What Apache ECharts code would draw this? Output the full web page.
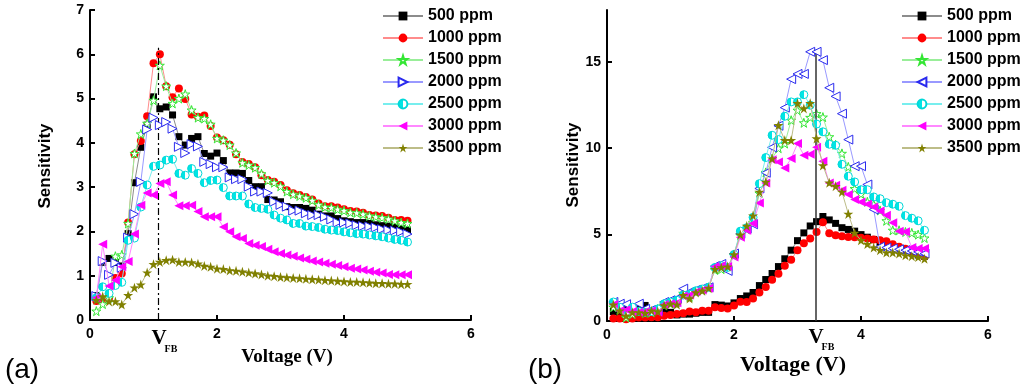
<!DOCTYPE html>
<html><head><meta charset="utf-8">
<script src="https://cdn.jsdelivr.net/npm/echarts@6/dist/echarts.min.js"></script>
<style>html,body{margin:0;padding:0;background:#fff}#c{width:1024px;height:390px}</style>
</head><body><div id="c"></div>
<script>
const volts = [0.1,0.2,0.3,0.4,0.5,0.6,0.7,0.8,0.9,1.0,1.1,1.2,1.3,1.4,1.5,1.6,1.7,1.8,1.9,2.0,2.1,2.2,2.3,2.4,2.5,2.6,2.7,2.8,2.9,3.0,3.1,3.2,3.3,3.4,3.5,3.6,3.7,3.8,3.9,4.0,4.1,4.2,4.3,4.4,4.5,4.6,4.7,4.8,4.9,5.0];
const seriesNames = ['500 ppm','1000 ppm','1500 ppm','2000 ppm','2500 ppm','3000 ppm','3500 ppm'];
const xTicks = [0,2,4,6];
const yTicksA = [0,1,2,3,4,5,6,7];
const yTicksB = [0,5,10,15];
const vfbA = 1.07, vfbTopA = 6.15;
const vfbB = 3.29, vfbTopB = 15.7;

// panel (a)
const a500  = [0.55,1.30,1.39,1.30,1.22,1.95,3.10,3.90,4.40,5.04, 4.77,4.81,4.63,4.14,3.95,4.10,4.14,3.76,3.70,3.77, 3.60,3.32,3.32,3.31,3.15,3.01,3.01,2.72,2.71,2.67, 2.56,2.54,2.54,2.52,2.48,2.39,2.35,2.35,2.29,2.24, 2.22,2.20,2.20,2.18,2.15,2.13,2.12,2.10,2.07,2.03];
const a1000 = [0.43,0.45,0.50,0.95,1.05,2.20,3.74,4.04,4.60,5.80, 6.00,5.28,5.03,5.23,4.99,4.64,4.59,4.62,4.38,4.12, 4.06,3.96,3.74,3.57,3.52,3.45,3.27,3.16,3.12,3.05, 2.93,2.86,2.82,2.78,2.72,2.63,2.57,2.57,2.54,2.50, 2.46,2.45,2.42,2.37,2.36,2.35,2.31,2.26,2.26,2.24];
const a1500 = [0.20,0.36,0.50,1.44,1.47,2.18,3.76,4.20,4.44,4.96, 5.75,5.28,4.89,5.00,5.10,4.74,4.57,4.55,4.42,4.10, 4.06,3.95,3.77,3.55,3.50,3.44,3.30,3.15,3.10,3.02, 2.90,2.84,2.80,2.76,2.70,2.60,2.55,2.54,2.50,2.47, 2.43,2.42,2.39,2.35,2.33,2.31,2.28,2.24,2.20,2.18];
const a2000 = [0.54,1.33,1.02,1.29,1.18,1.86,2.39,3.12,4.30,4.57, 4.40,4.47,4.32,3.91,3.77,3.97,3.92,3.57,3.52,3.45, 3.45,3.22,3.18,3.18,3.01,2.90,2.90,2.87,2.67,2.60, 2.56,2.47,2.47,2.41,2.37,2.37,2.33,2.27,2.20,2.20, 2.18,2.14,2.12,2.11,2.09,2.05,2.03,2.02,1.99,1.94];
const a2500 = [0.50,0.75,0.60,0.78,0.85,1.80,1.85,2.55,3.05,3.47, 3.50,3.61,3.63,3.31,3.27,3.42,3.31,3.10,3.15,3.16, 2.99,2.80,2.80,2.80,2.62,2.54,2.52,2.50,2.37,2.30, 2.26,2.18,2.18,2.12,2.11,2.09,2.05,2.03,2.02,1.99, 1.97,1.95,1.94,1.92,1.90,1.88,1.85,1.82,1.80,1.76];
const a3000 = [0.50,1.71,0.77,0.90,1.20,1.32,1.94,2.59,2.87,2.82, 3.08,3.12,2.82,2.58,2.58,2.59,2.45,2.33,2.33,2.33, 2.10,1.99,1.88,1.84,1.73,1.69,1.66,1.60,1.54,1.50, 1.47,1.44,1.40,1.37,1.33,1.31,1.28,1.26,1.23,1.20, 1.17,1.15,1.13,1.10,1.08,1.06,1.03,1.02,1.02,1.02];
const a3500 = [0.45,0.53,0.42,0.42,0.35,0.56,0.73,0.80,1.07,1.26, 1.31,1.35,1.36,1.31,1.31,1.30,1.27,1.22,1.20,1.16, 1.15,1.12,1.11,1.09,1.07,1.05,1.03,1.00,0.99,0.97, 0.96,0.95,0.94,0.93,0.92,0.91,0.90,0.89,0.88,0.87, 0.86,0.86,0.85,0.84,0.83,0.83,0.82,0.82,0.81,0.81];

// panel (b)
const b500  = [0.55,0.45,0.70,0.75,0.70,0.90,0.50,0.45,0.65,0.50, 0.35,0.40,0.40,0.45,0.50,0.50,0.95,0.92,0.87,1.05, 1.30,1.45,1.65,2.05,2.40,2.75,3.15,3.60,4.10,4.65, 5.10,5.50,5.75,6.05,5.85,5.65,5.40,5.30,5.20,5.00, 4.85,4.72,4.55,4.42,4.30,4.20,4.10,3.97,3.82,3.75];
const b1000 = [0.15,0.15,0.10,0.15,0.20,0.20,0.22,0.22,0.30,0.35, 0.40,0.45,0.55,0.50,0.60,0.60,0.80,0.75,0.72,0.90, 1.12,1.10,1.30,1.65,1.97,2.39,2.74,3.20,3.55,4.10, 4.50,4.77,5.15,5.72,5.08,4.96,4.90,4.86,4.85,4.82, 4.77,4.71,4.67,4.61,4.44,4.30,4.18,4.05,3.90,3.75];
const b1500 = [0.80,0.65,0.20,0.40,0.55,0.45,0.50,0.70,0.90,1.00, 1.10,1.60,1.40,1.70,1.80,1.95,2.95,3.00,3.10,3.80, 4.95,5.30,5.70,7.40,8.60,9.40,10.00,10.27,11.62,12.20, 11.47,11.78,12.00,11.80,10.66,10.20,9.70,8.92,7.66,7.35, 6.90,6.75,6.40,5.80,5.25,5.25,5.15,5.10,5.00,4.80];
const b2000 = [1.10,1.00,0.97,0.70,1.00,0.70,0.65,0.60,1.10,1.20, 1.30,1.87,1.68,1.80,1.90,1.95,3.18,3.30,2.90,3.90, 5.05,5.35,5.60,7.67,8.58,10.05,11.30,12.35,14.00,14.30, 14.30,15.58,15.58,15.10,13.50,13.00,12.00,10.50,8.96,8.96, 7.90,6.45,4.30,4.25,4.20,4.15,4.10,4.05,4.00,3.90];
const b2500 = [1.10,0.80,0.50,0.80,0.55,0.50,0.55,0.70,1.00,1.10, 1.20,1.50,1.55,1.75,1.85,1.95,3.10,3.20,3.10,3.85, 5.20,5.40,6.00,7.95,9.46,10.75,10.50,11.85,12.68,12.68, 13.10,12.49,11.40,10.95,10.23,10.17,9.07,8.38,8.05,7.60, 7.60,7.18,7.08,6.85,6.76,6.64,6.10,5.95,5.80,5.25];
const b3000 = [0.95,0.60,0.65,0.55,0.50,0.55,0.60,0.50,0.95,1.00, 1.05,1.45,1.50,1.70,1.80,1.90,3.15,3.20,3.15,3.70, 4.85,5.25,5.65,6.83,7.99,9.34,9.20,8.85,9.40,10.27, 9.60,9.65,10.05,9.25,7.99,7.86,7.57,7.32,7.03,6.89, 6.76,6.60,6.37,6.12,5.68,5.20,5.17,4.26,4.20,4.20];
const b3500 = [0.95,0.60,0.30,0.50,0.50,0.45,0.60,0.55,0.90,1.00, 0.95,1.50,1.30,1.65,1.75,1.90,3.00,3.10,3.15,3.85, 5.00,5.50,6.10,7.47,8.05,9.40,11.33,10.46,10.46,12.60, 12.30,12.60,10.56,9.00,8.00,7.80,7.47,6.20,5.10,4.67, 4.45,4.25,4.10,3.96,3.96,3.90,3.80,3.75,3.70,3.60];

const panelAValues = [a500,a1000,a1500,a2000,a2500,a3000,a3500];
const panelBValues = [b500,b1000,b1500,b2000,b2500,b3000,b3500];

const STAR = 'path://M50,0 L61.2,34.5 L97.6,34.5 L68.2,55.9 L79.4,90.5 L50,69.1 L20.6,90.5 L31.8,55.9 L2.4,34.5 L38.8,34.5 Z';
const TRI_R = 'path://M0,0 L10,5 L0,10 Z';
const TRI_L = 'path://M10,0 L0,5 L10,10 Z';
const halfCyan = {type:'linear',x:0,y:0,x2:1,y2:0,global:false,colorStops:[
  {offset:0,color:'#00e5e5'},{offset:0.5,color:'#00e5e5'},{offset:0.5,color:'#ffffff'},{offset:1,color:'#ffffff'}]};

function styleFor(i, panel){
  const s = [
    {fill:'#000000', border:null, line:'#8c8c8c', symbol:'rect', size:7},
    {fill:'#ff0000', border:null, line:'#ff8c8c', symbol:'circle', size:8},
    {fill:'#ffffff', border:'#33e633', line:'#99ee99', symbol:STAR, size:9},
    {fill:'#ffffff', border:'#2a2aee', line:'#9999ff', symbol: panel===0 ? TRI_R : TRI_L, size:9},
    {fill:halfCyan, border:'#00d8d8', line:'#77eeee', symbol:'circle', size:8},
    {fill:'#ff00ff', border:null, line:'#ff88ff', symbol:TRI_L, size:9},
    {fill:'#808000', border:null, line:'#bdbd88', symbol:STAR, size:10}
  ];
  return s[i];
}

const series = [];
[panelAValues, panelBValues].forEach((vals, p) => {
  vals.forEach((arr, i) => {
    const st = styleFor(i, p);
    const s = {
      type:'line', name: p===0 ? seriesNames[i] : seriesNames[i] + ' (b)',
      xAxisIndex:p, yAxisIndex:p,
      data: volts.map((v, k) => [v, arr[k]]),
      symbol: st.symbol, symbolSize: st.size, showAllSymbol:true,
      itemStyle: {color: st.fill, borderColor: st.border || st.fill, borderWidth: st.border ? 1 : 0, opacity:1},
      lineStyle: {color: st.line, width:1},
      emphasis:{disabled:true}, z: 2 + i
    };
    if (i === 0) {
      s.markLine = {
        silent:true, symbol:'none', animation:false, label:{show:false},
        lineStyle: p===0 ? {color:'#000', width:1.2, type:[7,3,2,3]} : {color:'#333', width:1.5, type:'solid'},
        data: p===0 ? [[{coord:[vfbA,0]},{coord:[vfbA,vfbTopA]}]] : [[{coord:[vfbB,0]},{coord:[vfbB,vfbTopB]}]]
      };
    }
    series.push(s);
  });
});

const SANS = '"Liberation Sans", Arial, sans-serif';
const SERIF = '"Liberation Serif", "Times New Roman", serif';
function xAx(g){
  return {gridIndex:g, type:'value', min:0, max:6, interval:2,
    axisLine:{show:true, onZero:false, lineStyle:{color:'#000', width:2}},
    axisTick:{show:true, inside:true, length:5, lineStyle:{color:'#000', width:2}, customValues: xTicks},
    axisLabel:{margin:7, color:'#000', fontWeight:'bold', fontSize:14, fontFamily:SANS, customValues: xTicks},
    splitLine:{show:false}};
}
function yAx(g, max, interval, ticks){
  return {gridIndex:g, type:'value', min:0, max:max, interval:interval,
    axisLine:{show:true, onZero:false, lineStyle:{color:'#000', width:2}},
    axisTick:{show:true, inside:true, length:5, lineStyle:{color:'#000', width:2}, customValues: ticks},
    axisLabel:{margin:6, color:'#000', fontWeight:'bold', fontSize:14, fontFamily:SANS, customValues: ticks},
    splitLine:{show:false}};
}
const legendBase = {orient:'vertical', top:3, itemWidth:40, itemHeight:11, itemGap:6, selectedMode:false,
  textStyle:{fontFamily:SANS, fontWeight:'bold', fontSize:16, color:'#000', lineHeight:16}};

function txt(text, x, y, font, rot){
  return {type:'text', x:x, y:y, rotation: rot||0, silent:true,
    style:{text:text, font:font, fill:'#000', textAlign:'center', textVerticalAlign:'middle'}};
}

const chart = echarts.init(document.getElementById('c'), null, {renderer:'canvas'});
chart.setOption({
  animation:false,
  backgroundColor:'#fff',
  grid:[{left:90, top:10, width:381, height:310}, {left:607, top:10, width:381, height:311}],
  xAxis:[xAx(0), xAx(1)],
  yAxis:[yAx(0,7,1,yTicksA), yAx(1,18,5,yTicksB)],
  legend:[
    Object.assign({}, legendBase, {left:377, data: seriesNames}),
    Object.assign({}, legendBase, {left:896, data: seriesNames.map(n=>n+' (b)'), formatter: n => n.replace(' (b)','')})
  ],
  series: series,
  graphic:[
    txt('(a)', 22, 370, '28px ' + SANS),
    txt('(b)', 545, 370, '28px ' + SANS),
    txt('Sensitivity', 45, 166, 'bold 17px ' + SANS, Math.PI/2),
    txt('Sensitivity', 573, 165, 'bold 17px ' + SANS, Math.PI/2),
    txt('Voltage (V)', 287, 357, 'bold 19px ' + SERIF),
    txt('Voltage (V)', 793, 365, 'bold 22px ' + SERIF),
    txt('V', 159, 339, 'bold 21px ' + SERIF),
    txt('FB', 171, 349, 'bold 10px ' + SERIF),
    txt('V', 816, 338, 'bold 21px ' + SERIF),
    txt('FB', 828, 347, 'bold 10px ' + SERIF)
  ]
});
</script></body></html>
